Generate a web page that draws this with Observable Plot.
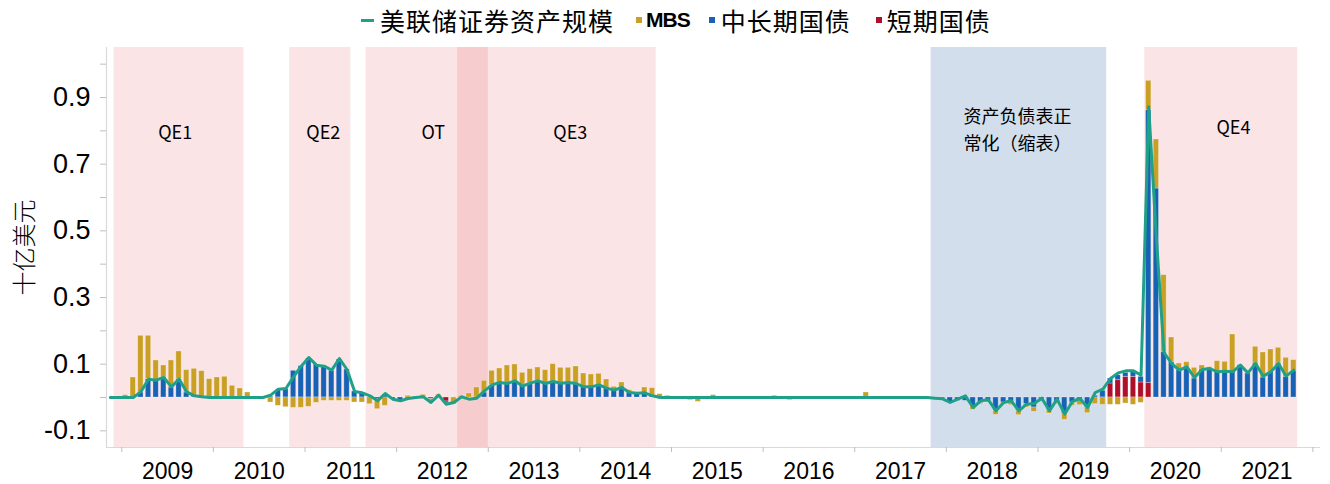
<!DOCTYPE html>
<html><head><meta charset="utf-8">
<script src="https://cdn.jsdelivr.net/npm/d3@7"></script>
<script src="https://cdn.jsdelivr.net/npm/@observablehq/plot@0.6"></script>
<style>
body{margin:0;background:#fff;}
#legend{position:relative;height:40px;width:1330px;font-family:"Noto Sans CJK SC",sans-serif;font-size:25px;letter-spacing:1px;color:#000;}
#legend .items{position:absolute;left:361px;top:2px;height:36px;display:flex;align-items:center;white-space:nowrap;}
#legend .item{display:flex;align-items:center;}
#legend .mbs{font-family:"Liberation Sans",Arial,sans-serif;font-weight:bold;font-size:21px;letter-spacing:-1px;}
</style></head><body>
<div id="legend"><div class="items"></div></div>
<div id="chart"></div>
<script>
// months are indexed from Jan 2009 (= 0)
const firstYear = 2009;
const years = [2009,2010,2011,2012,2013,2014,2015,2016,2017,2018,2019,2020,2021];

// MBS change (Jan 2009 - Oct 2021)
const mbs = [
 0.007,0.06,0.17,0.13,0.061,0.036,0.081,0.083,0.067,0.083,0.079,0.055,
 0.06,0.062,0.035,0.027,0.015,0,0,-0.015,-0.025,-0.029,-0.031,-0.031,
 -0.028,-0.016,-0.01,-0.01,-0.01,-0.01,-0.015,-0.015,-0.02,-0.03,-0.025,0,
 0,0.005,0.003,0.008,-0.007,0.008,0,-0.02,0.005,0.012,0.03,0.035,
 0.043,0.047,0.053,0.051,0.036,0.042,0.04,0.04,0.052,0.047,0.044,0.053,
 0.04,0.037,0.036,0.026,0.01,0.017,0.007,0.001,0.018,0.023,0.01,0.005,
 0,0,-0.008,-0.013,0,0.007,0,0,0,0,0,0,
 0,0.005,0,-0.008,0,0,0,0,-0.006,0,0.003,0,
 0,0.015,0.003,0,0,0,0,0,0,0.002,0,0,
 0,0,0,-0.012,-0.005,-0.005,-0.012,-0.005,-0.008,-0.013,-0.01,-0.013,
 -0.003,-0.011,-0.005,-0.017,-0.01,-0.013,-0.017,-0.02,-0.022,-0.022,-0.022,-0.018,
 -0.022,-0.016,0.088,0.147,0.23,0.073,0.02,0.014,0.032,0.012,0.004,0.032,
 0.03,0.112,0,0,0.05,0.075,0.067,0.047,0.057,0.032
];
// 中长期国债 change
const longTerm = [
 0,0,0.015,0.055,0.05,0.06,0.03,0.055,0.015,0.003,0,0,
 0,0,0,0,0,0,0,0.003,0.022,0.025,0.08,0.094,
 0.117,0.099,0.094,0.08,0.114,0.084,0.018,0.015,0,-0.005,0.008,-0.005,
 -0.01,-0.003,0,0,-0.005,0,-0.005,0,0,0,0,0.015,
 0.037,0.04,0.043,0.048,0.038,0.043,0.05,0.042,0.048,0.042,0.045,0.04,
 0.032,0.032,0.035,0.028,0.022,0.028,0.015,0.014,0.012,0.005,0,0,
 0,0,0,0,0,0,0,0,0,0,0,0,
 0,0,0,0,0,0,0,0,0,0,0,0,
 0,0,0,0,0,0,0,0,0,0,-0.003,-0.003,
 -0.015,-0.01,-0.01,-0.025,-0.015,-0.01,-0.04,-0.015,-0.015,-0.04,-0.02,-0.03,
 -0.01,-0.037,-0.015,-0.05,-0.015,-0.01,-0.03,0.005,0.02,0.015,0.015,0.012,
 0.015,0.017,0.818,0.627,0.137,0.107,0.082,0.092,0.057,0.084,0.087,0.077,
 0.077,0.077,0.097,0.072,0.102,0.06,0.077,0.102,0.062,0.08
];
// 短期国债 change
const shortTerm = [
 0,0,0,0,0,0,0,0,0,0,0,0,
 0,0,0,0,0,0,0,0,0,0,0,0,
 0,0,0,0,0,0,0,0,0,0,0,0,
 0,0,0,0,0,0,-0.012,0,0,0,0,0,
 0,0,0,0,0,0,0,0,0,0,0,0,
 0,0,0,0,0,0,0,0,0,0,0,0,
 0,0,0,0,0,0,0,0,0,0,0,0,
 0,0,0,0,0,0,0,0,0,0,0,0,
 0,0,0,0,0,0,0,0,0,0,0,0,
 0,0,0,0,0,0,0,0,0,0,0,0,
 0,0,0,0,0,0,0,0,0,0.042,0.052,0.062,
 0.062,0.045,0.044,0,0,0,0,0,0,0,0,0,
 0,0,0,0,0,0,0,0,0,0
];
// 美联储证券资产规模 change (Nov 2008 - Oct 2021)
const lineStart = -2;
const securities = [
 0,0,
 0,0,0.017,0.055,0.052,0.06,0.032,0.055,0.017,0.005,0.002,0,
 0,0,0,0,0,0,0,0.007,0.025,0.027,0.062,0.094,
 0.12,0.097,0.094,0.082,0.117,0.084,0.018,0.014,0.005,-0.01,0.012,-0.005,
 -0.01,-0.003,0,0.002,-0.015,0.007,-0.02,-0.015,0.002,-0.005,-0.002,0.02,
 0.038,0.045,0.042,0.05,0.034,0.043,0.05,0.042,0.048,0.043,0.045,0.042,
 0.032,0.032,0.038,0.028,0.022,0.03,0.015,0.013,0.014,0.005,0,0,
 0,0,0,0,0,0,0,0,0,0,0,0,
 0,0,0,0,0,0,0,0,0,0,0,0,
 0,0,0,0,0,0,0,0,0,0,-0.002,-0.004,
 -0.015,-0.005,0.005,-0.03,-0.01,-0.007,-0.04,-0.015,-0.01,-0.04,-0.02,-0.018,
 -0.002,-0.04,-0.005,-0.05,-0.012,-0.003,-0.03,0.015,0.025,0.057,0.074,0.08,
 0.08,0.067,0.872,0.48,0.135,0.102,0.082,0.092,0.06,0.084,0.087,0.077,
 0.079,0.077,0.097,0.074,0.102,0.064,0.077,0.102,0.064,0.082
];

const seriesNames = ["短期国债","中长期国债","MBS"];
const seriesColors = ["#AE1029","#1862B6","#C9A024"];
const lineName = "美联储证券资产规模";
const lineColor = "#1FA189";

const periods = [
 {name:"QE1", start:"2008-12", end:"2010-05", kind:"qe"},
 {name:"QE2", start:"2010-11", end:"2011-07", kind:"qe"},
 {name:"OT", start:"2011-09", end:"2013-01", kind:"qe"},
 {name:"QE3", start:"2012-09", end:"2014-11", kind:"qe"},
 {name:"缩表", start:"2017-11", end:"2019-10", kind:"qt"},
 {name:"QE4", start:"2020-03", end:"2021-11", kind:"qe"}
];
const notes = [
 {text:"QE1", m:7.0, y:0.80},
 {text:"QE2", m:26.4, y:0.80},
 {text:"OT", m:40.8, y:0.80},
 {text:"QE3", m:58.75, y:0.80},
 {text:"资产负债表正\n常化（缩表）", m:117.3, y:0.81},
 {text:"QE4", m:145.6, y:0.815}
];
const yTicks = [-0.1,0,0.1,0.2,0.3,0.4,0.5,0.6,0.7,0.8,0.9,1.0];
const yLabels = [-0.1,0.1,0.3,0.5,0.7,0.9];
const yTitle = "十亿美元";

const idx = s => { const [y,m] = s.split("-").map(Number); return (y-firstYear)*12 + (m-1); };

const rows = [];
mbs.forEach((_, k) => {
  rows.push({m:k, series:"短期国债", v:shortTerm[k]});
  rows.push({m:k, series:"中长期国债", v:longTerm[k]});
  rows.push({m:k, series:"MBS", v:mbs[k]});
});
const lineRows = securities.map((v,i) => ({m: lineStart + i, v}));
const yearTicks = years.map(y => (y-firstYear)*12).concat([(years[years.length-1]+1-firstYear)*12]);
const yearLabelPos = years.map(y => (y-firstYear)*12 + 6);

const CJK = "'Noto Sans CJK SC', sans-serif";

const chart = Plot.plot({
  width:1330, height:444,
  marginLeft:106, marginRight:10, marginTop:7, marginBottom:37,
  x:{type:"linear", domain:[-2,157]},
  y:{domain:[-0.15,1.05]},
  color:{domain:seriesNames, range:seriesColors},
  style:{fontFamily:"'Liberation Sans', Arial, sans-serif", background:"#fff", color:"#000"},
  marks:[
    Plot.rect(periods, {x1:d=>idx(d.start), x2:d=>idx(d.end),
      fill:d=>d.kind==="qt" ? "#D3DEEC" : "#E0202A",
      fillOpacity:d=>d.kind==="qt" ? 1 : 0.12}),
    Plot.rectY(rows, {x:"m", y:"v", fill:"series", interval:1, insetLeft:1.15, insetRight:1.15,
      stroke:"#fff", strokeOpacity:0.35, strokeWidth:0.8}),
    Plot.line(lineRows, {x:d=>d.m+0.5, y:"v", stroke:lineColor, strokeWidth:3}),
    Plot.ruleX([-2], {stroke:"#D9D9D9", strokeWidth:1.2}),
    Plot.ruleY([-0.15], {stroke:"#D9D9D9", strokeWidth:1.2}),
    Plot.axisY(yTicks, {tickSize:6, tickFormat:()=>"", stroke:"#BFBFBF", label:null}),
    Plot.axisY(yLabels, {tickSize:0, tickPadding:16, tickFormat:d=>d.toFixed(1), fontSize:27, label:null}),
    Plot.axisX(yearTicks, {tickSize:5, tickFormat:()=>"", stroke:"#BFBFBF", label:null}),
    Plot.axisX(yearLabelPos, {tickSize:0, tickPadding:15, tickFormat:m=>String(firstYear + (m-6)/12), fontSize:23, label:null}),
    Plot.text(notes, {x:"m", y:"y", text:"text", fontSize:18, fontFamily:CJK, lineHeight:1.5, fill:"#000"}),
    Plot.text([yTitle], {frameAnchor:"left", textAnchor:"middle", dx:-81, rotate:-90, fontSize:24, fontWeight:300,
      fontFamily:CJK, fill:"#000", style:"letter-spacing:3px"})
  ]
});
document.getElementById("chart").appendChild(chart);

// legend
const items = document.querySelector("#legend .items");
function addItem(swatch, label, textClass, gapAfter){
  const it = document.createElement("div"); it.className = "item"; it.style.marginRight = gapAfter + "px";
  it.appendChild(swatch);
  const t = document.createElement("span"); t.textContent = label; if (textClass) t.className = textClass;
  it.appendChild(t); items.appendChild(it);
}
function sw(color, w, h, gap){ const s = document.createElement("span"); s.className="sw";
  s.style.cssText = `width:${w}px;height:${h}px;background:${color};margin-right:${gap}px;display:inline-block;`; return s; }
addItem(sw(lineColor, 13, 3, 6), lineName, null, 22);
addItem(sw(seriesColors[2], 6, 6, 4), "MBS", "mbs", 19);
addItem(sw(seriesColors[1], 6, 6, 6), "中长期国债", null, 25);
addItem(sw(seriesColors[0], 6, 6, 5), "短期国债", null, 0);
</script>
</body></html>
